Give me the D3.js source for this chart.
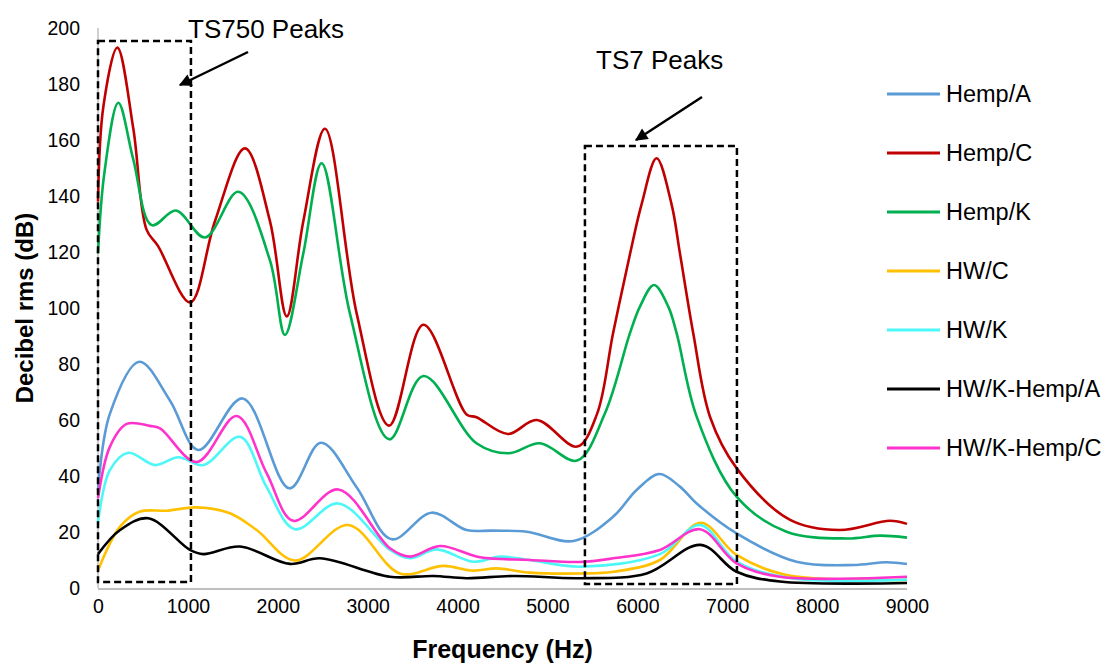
<!DOCTYPE html>
<html><head><meta charset="utf-8">
<script src="https://cdn.jsdelivr.net/npm/d3@7"></script>
<style>
html,body{margin:0;padding:0;background:#fff;}
svg{display:block;font-family:"Liberation Sans",Arial,sans-serif;}
</style></head>
<body><svg id="chart" width="1104" height="663"></svg>
<script>
// ---- data ----
const seriesNames = ["Hemp/A","Hemp/C","Hemp/K","HW/C","HW/K","HW/K-Hemp/A","HW/K-Hemp/C"];
const seriesColors = ["#5B9BD5","#C00000","#00B050","#FFC000","#4DF7F7","#000000","#FF33CC"];

const hempAFreq = [0,130,460,800,1116,1610,2129,2480,2877,3266,3711,4100,4390,4770,5290,5732,5992,6244,6474,6660,7104,7770,8400,8770,9000];
const hempAdB   = [35,62,80.8,67,49.3,67.7,35.6,51.9,36,17.4,26.9,20.7,20.5,20.1,16.8,25.5,35,40.7,36.2,30.2,19.5,9.4,8.2,9.2,8.6];

const hempCFreq = [0,60,215,393,540,670,1025,1301,1635,1913,2100,2284,2525,2878,3240,3620,4100,4210,4560,4880,5330,5550,5730,5920,6047,6214,6381,6474,6622,6810,7100,7700,8250,8810,9000];
const hempCdB   = [138,172,193,164,128,122,102,131,157,131,97,131,164,98,58,94,62,61,55,60,50.5,62,91,119.5,137,153.5,137,119.5,91,61,43,24.3,20.7,24,22.9];

const hempKFreq = [0,70,226,393,597,868,1190,1561,1913,2080,2284,2488,2803,3240,3620,4210,4564,4917,5330,5640,5918,6029,6185,6344,6437,6660,7104,7660,8330,8700,9000];
const hempKdB   = [119.5,148,173.3,153,129.6,134.8,125.2,141.5,117,90.4,119.5,151.7,98,53.1,75.7,51.7,48.1,51.7,45.5,62.4,91,100.5,108.2,100.5,91,61.2,32.6,20.1,17.7,18.7,18];

const hwCFreq = [0,245,467,764,1098,1468,1765,2191,2784,3359,3841,4175,4435,4806,5361,5732,6251,6704,7104,7660,9000];
const hwCdB   = [6.2,21.9,27.3,27.6,28.8,26.7,20.7,9.8,22.5,5.2,7.9,6.2,7,5.5,5.2,5.8,10,23.3,11.8,4.6,2.9];

const hwKFreq = [0,130,337,634,893,1171,1580,1876,2191,2673,3248,3470,3767,4175,4472,4806,5361,6251,6696,7104,7734,9000];
const hwKdB   = [23.3,42,48.3,43.9,46.7,43.9,54,36,21,30.2,13.6,10.6,13.8,9.4,11.2,10,7.6,12.1,22.5,9.4,3.4,3];

const hwkHempAFreq = [0,245,560,1023,1171,1580,2136,2469,3248,3730,4100,4620,5361,6103,6704,7104,7586,9000];
const hwkHempAdB   = [12.1,20.7,24.9,13.6,12.1,14.8,8.6,10.6,4,4.3,3.5,4.3,3.5,5.2,15.4,5.8,2.3,1.8];

const hwkHempCFreq = [0,133,319,578,690,1098,1543,1876,2173,2673,3248,3470,3804,4249,4806,5361,5732,6251,6696,7104,7586,9000];
const hwkHempCdB   = [32,50.5,58.6,57.9,57,45,61.4,41,24,35.2,14.2,11.2,15,11,10,9.3,10.6,13.6,21,8.8,4,4];

const xTicks = [0,1000,2000,3000,4000,5000,6000,7000,8000,9000];
const yTicks = [0,20,40,60,80,100,120,140,160,180,200];

// annotation boxes in data units [f0,f1,v0,v1]
const boxTS750 = [0,1034,2.1,195.4];
const boxTS7   = [5417,7108,1.4,157.9];

// ---- drawing ----
const svg = d3.select("#chart");
const x = d3.scaleLinear().domain([0,9000]).range([98,907]);
const y = d3.scaleLinear().domain([0,200]).range([588,28]);

const allFreq = [hempAFreq,hempCFreq,hempKFreq,hwCFreq,hwKFreq,hwkHempAFreq,hwkHempCFreq];
const allDB   = [hempAdB,hempCdB,hempKdB,hwCdB,hwKdB,hwkHempAdB,hwkHempCdB];
const series = seriesNames.map((n,i)=>({name:n,color:seriesColors[i],pts:allFreq[i].map((f,j)=>[f,allDB[i][j]])}));

// axis lines
svg.append("line").attr("x1",x(0)).attr("x2",x(9000)).attr("y1",y(0)+1).attr("y2",y(0)+1)
  .attr("stroke","#bfbfbf").attr("stroke-width",2);
svg.append("line").attr("x1",x(0)).attr("x2",x(0)).attr("y1",y(200)).attr("y2",y(0))
  .attr("stroke","#d0d0d0").attr("stroke-width",2);

const xAxis = svg.append("g").attr("transform",`translate(0,${y(0)})`)
  .call(d3.axisBottom(x).tickValues(xTicks).tickSize(0).tickPadding(11).tickFormat(d3.format("d")));
xAxis.select(".domain").remove();
xAxis.selectAll("text").attr("font-size","19.5px").attr("fill","#000").attr("font-family","Liberation Sans, Arial, sans-serif");

const yAxis = svg.append("g").attr("transform",`translate(${x(0)},0)`)
  .call(d3.axisLeft(y).tickValues(yTicks).tickSize(0).tickPadding(18).tickFormat(d3.format("d")));
yAxis.select(".domain").remove();
yAxis.selectAll("text").attr("font-size","19.5px").attr("fill","#000").attr("font-family","Liberation Sans, Arial, sans-serif");

// axis titles
svg.append("text").attr("x",(x(0)+x(9000))/2).attr("y",658).attr("text-anchor","middle")
  .attr("font-size","25px").attr("font-weight","bold").text("Frequency (Hz)");
svg.append("text").attr("transform",`translate(33,${(y(0)+y(200))/2}) rotate(-90)`).attr("text-anchor","middle")
  .attr("font-size","24px").attr("font-weight","bold").text("Decibel rms (dB)");

// lines
const line = d3.line().x(d=>x(d[0])).y(d=>y(d[1])).curve(d3.curveCatmullRom.alpha(0.5));
svg.append("g").selectAll("path").data(series).join("path")
  .attr("d",d=>line(d.pts)).attr("fill","none").attr("stroke",d=>d.color)
  .attr("stroke-width",2.6).attr("stroke-linejoin","round");

// dashed boxes
[boxTS750,boxTS7].forEach(b=>{
  svg.append("rect").attr("x",x(b[0])).attr("y",y(b[3]))
    .attr("width",x(b[1])-x(b[0])).attr("height",y(b[2])-y(b[3]))
    .attr("fill","none").attr("stroke","#000").attr("stroke-width",2.5).attr("stroke-dasharray","7,4");
});

// arrows
const defs = svg.append("defs");
defs.append("marker").attr("id","arr").attr("viewBox","0 0 10 10").attr("refX",9).attr("refY",5)
  .attr("markerWidth",6).attr("markerHeight",5).attr("markerUnits","strokeWidth").attr("orient","auto")
  .append("path").attr("d","M0,0 L10,5 L0,10 Z").attr("fill","#000");
svg.append("line").attr("x1",248).attr("y1",52).attr("x2",180).attr("y2",85)
  .attr("stroke","#000").attr("stroke-width",2.5).attr("marker-end","url(#arr)");
svg.append("line").attr("x1",702).attr("y1",97).attr("x2",636).attr("y2",140)
  .attr("stroke","#000").attr("stroke-width",2.5).attr("marker-end","url(#arr)");

svg.append("text").attr("x",188).attr("y",38).attr("font-size","26px").text("TS750 Peaks");
svg.append("text").attr("x",596).attr("y",69).attr("font-size","26px").text("TS7 Peaks");

// legend
const lg = svg.append("g").selectAll("g").data(series).join("g")
  .attr("transform",(d,i)=>`translate(887,${94+i*59})`);
lg.append("line").attr("x1",0).attr("x2",53).attr("y1",0).attr("y2",0)
  .attr("stroke",d=>d.color).attr("stroke-width",3);
lg.append("text").attr("x",59).attr("y",0).attr("dy","0.35em").attr("font-size","23.5px").text(d=>d.name);
</script></body></html>
